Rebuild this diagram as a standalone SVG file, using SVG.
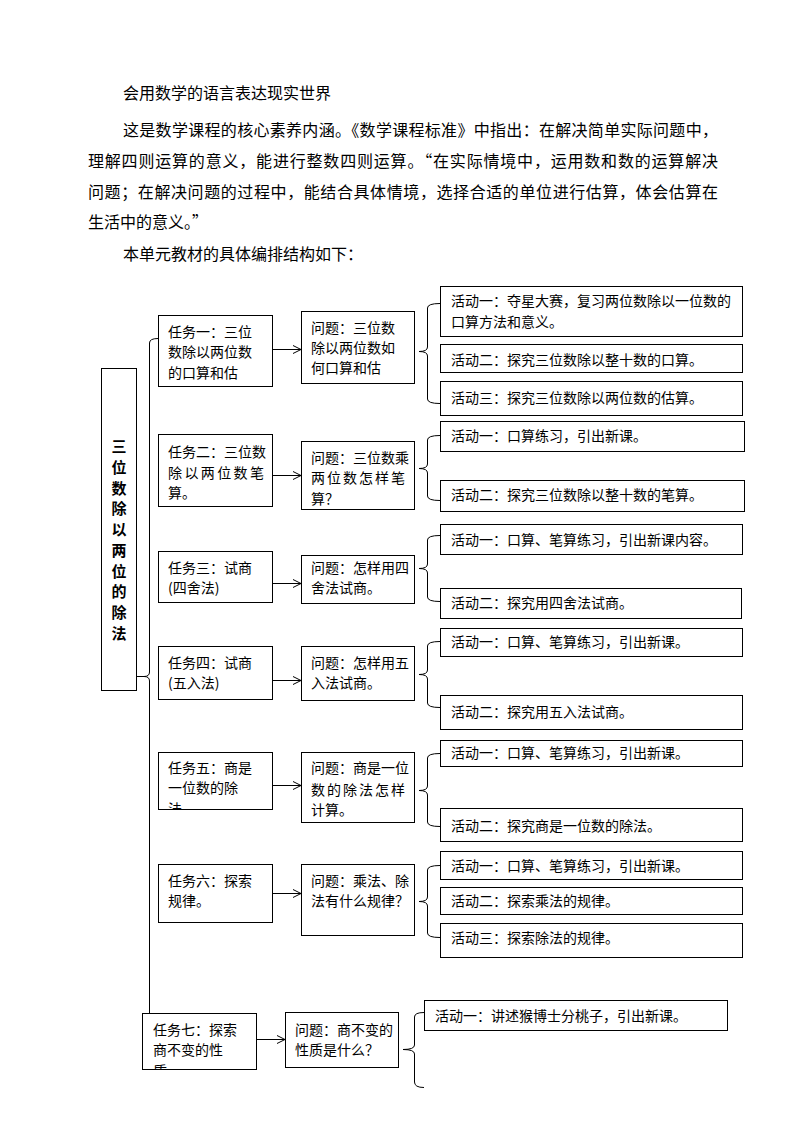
<svg xmlns="http://www.w3.org/2000/svg" width="794" height="1123" viewBox="0 0 794 1123">
<style>
text{font-family:"Noto Sans CJK SC","Liberation Sans",sans-serif;fill:#000}
.p{font-size:16px}
.t{font-size:14px}
.m{font-size:15px;font-weight:bold}
rect{fill:#fff;stroke:#000;stroke-width:1}
.c path,.c line{fill:none;stroke:#000;stroke-width:1}
</style>
<defs>
<marker id="ah" markerWidth="10" markerHeight="10" refX="9" refY="5" orient="auto" markerUnits="userSpaceOnUse">
<path d="M1,1 L9,5 L1,9" fill="none" stroke="#000" stroke-width="1"/>
</marker>
<clipPath id="cl5"><rect x="158" y="753" width="115" height="56"/></clipPath>
<clipPath id="cl7"><rect x="142" y="1013" width="115" height="56"/></clipPath>
</defs>
<rect x="0" y="0" width="794" height="1123" style="stroke:none"/>

<g id="intro">
<text class="p" x="123" y="99">会用数学的语言表达现实世界</text>
<text class="p" x="123" y="136" textLength="595" lengthAdjust="spacing">这是数学课程的核心素养内涵。《数学课程标准》中指出：在解决简单实际问题中，</text>
<text class="p" x="88" y="167" textLength="630" lengthAdjust="spacing">理解四则运算的意义，能进行整数四则运算。“在实际情境中，运用数和数的运算解决</text>
<text class="p" x="88" y="198" textLength="630" lengthAdjust="spacing">问题；在解决问题的过程中，能结合具体情境，选择合适的单位进行估算，体会估算在</text>
<text class="p" x="88" y="228">生活中的意义。”</text>
<text class="p" x="123" y="260">本单元教材的具体编排结构如下：</text>
</g>

<g id="main">
<rect x="101.5" y="368.5" width="35" height="322"/>
<text class="m" text-anchor="middle">
<tspan x="119" y="452">三</tspan><tspan x="119" y="473">位</tspan><tspan x="119" y="494">数</tspan><tspan x="119" y="514">除</tspan><tspan x="119" y="535">以</tspan><tspan x="119" y="556">两</tspan><tspan x="119" y="577">位</tspan><tspan x="119" y="597">的</tspan><tspan x="119" y="618">除</tspan><tspan x="119" y="639">法</tspan>
</text>
</g>

<g id="task1"><rect x="158.5" y="315.5" width="114" height="71"/>
<text class="t"><tspan x="168" y="337">任务一：三位</tspan><tspan x="168" y="357">数除以两位数</tspan><tspan x="168" y="378">的口算和估</tspan></text></g>
<g id="q1"><rect x="301.5" y="311.5" width="113" height="72"/>
<text class="t"><tspan x="311" y="333">问题：三位数</tspan><tspan x="311" y="353">除以两位数如</tspan><tspan x="311" y="373">何口算和估</tspan></text></g>
<g id="a1-1"><rect x="440.5" y="286.5" width="302" height="50"/>
<text class="t"><tspan x="451" y="306">活动一：夺星大赛，复习两位数除以一位数的</tspan><tspan x="451" y="327">口算方法和意义。</tspan></text></g>
<g id="a1-2"><rect x="440.5" y="344.5" width="302" height="28"/>
<text class="t" x="451" y="365">活动二：探究三位数除以整十数的口算。</text></g>
<g id="a1-3"><rect x="440.5" y="381.5" width="302" height="34"/>
<text class="t" x="451" y="403">活动三：探究三位数除以两位数的估算。</text></g>

<g id="task2"><rect x="158.5" y="434.5" width="114" height="72"/>
<text class="t"><tspan x="168" y="457">任务二：三位数</tspan><tspan x="168" y="478" textLength="96" lengthAdjust="spacing">除以两位数笔</tspan><tspan x="168" y="498">算。</tspan></text></g>
<g id="q2"><rect x="301.5" y="441.5" width="113" height="68"/>
<text class="t"><tspan x="311" y="463">问题：三位数乘</tspan><tspan x="311" y="483" textLength="94" lengthAdjust="spacing">两位数怎样笔</tspan><tspan x="311" y="504">算？</tspan></text></g>
<g id="a2-1"><rect x="440.5" y="421.5" width="304" height="30"/>
<text class="t" x="451" y="441">活动一：口算练习，引出新课。</text></g>
<g id="a2-2"><rect x="440.5" y="480.5" width="304" height="31"/>
<text class="t" x="451" y="500">活动二：探究三位数除以整十数的笔算。</text></g>

<g id="task3"><rect x="158.5" y="551.5" width="114" height="51"/>
<text class="t"><tspan x="168" y="573">任务三：试商</tspan><tspan x="168" y="593">(四舍法)</tspan></text></g>
<g id="q3"><rect x="301.5" y="555.5" width="113" height="48"/>
<text class="t"><tspan x="311" y="573">问题：怎样用四</tspan><tspan x="311" y="593">舍法试商。</tspan></text></g>
<g id="a3-1"><rect x="440.5" y="524.5" width="302" height="30"/>
<text class="t" x="451" y="545">活动一：口算、笔算练习，引出新课内容。</text></g>
<g id="a3-2"><rect x="440.5" y="588.5" width="301" height="30"/>
<text class="t" x="451" y="608">活动二：探究用四舍法试商。</text></g>

<g id="task4"><rect x="158.5" y="646.5" width="114" height="53"/>
<text class="t"><tspan x="168" y="668">任务四：试商</tspan><tspan x="168" y="688">(五入法)</tspan></text></g>
<g id="q4"><rect x="301.5" y="646.5" width="113" height="54"/>
<text class="t"><tspan x="311" y="668">问题：怎样用五</tspan><tspan x="311" y="688">入法试商。</tspan></text></g>
<g id="a4-1"><rect x="440.5" y="628.5" width="302" height="28"/>
<text class="t" x="451" y="647">活动一：口算、笔算练习，引出新课。</text></g>
<g id="a4-2"><rect x="440.5" y="695.5" width="302" height="34"/>
<text class="t" x="451" y="717">活动二：探究用五入法试商。</text></g>

<g id="task5"><rect x="158.5" y="752.5" width="114" height="57"/>
<text class="t" clip-path="url(#cl5)"><tspan x="168" y="773">任务五：商是</tspan><tspan x="168" y="793">一位数的除</tspan><tspan x="168" y="814">法</tspan></text></g>
<g id="q5"><rect x="301.5" y="752.5" width="113" height="70"/>
<text class="t"><tspan x="311" y="773">问题：商是一位</tspan><tspan x="311" y="795" textLength="94" lengthAdjust="spacing">数的除法怎样</tspan><tspan x="311" y="815">计算。</tspan></text></g>
<g id="a5-1"><rect x="440.5" y="740.5" width="302" height="26"/>
<text class="t" x="451" y="758">活动一：口算、笔算练习，引出新课。</text></g>
<g id="a5-2"><rect x="440.5" y="808.5" width="302" height="33"/>
<text class="t" x="451" y="831">活动二：探究商是一位数的除法。</text></g>

<g id="task6"><rect x="158.5" y="864.5" width="114" height="58"/>
<text class="t"><tspan x="168" y="886">任务六：探索</tspan><tspan x="168" y="906">规律。</tspan></text></g>
<g id="q6"><rect x="301.5" y="864.5" width="113" height="71"/>
<text class="t"><tspan x="311" y="886">问题：乘法、除</tspan><tspan x="311" y="906">法有什么规律？</tspan></text></g>
<g id="a6-1"><rect x="440.5" y="851.5" width="302" height="28"/>
<text class="t" x="451" y="871">活动一：口算、笔算练习，引出新课。</text></g>
<g id="a6-2"><rect x="440.5" y="887.5" width="302" height="27"/>
<text class="t" x="451" y="906">活动二：探索乘法的规律。</text></g>
<g id="a6-3"><rect x="440.5" y="923.5" width="302" height="34"/>
<text class="t" x="451" y="943">活动三：探索除法的规律。</text></g>

<g id="task7"><rect x="142.5" y="1013.5" width="114" height="56"/>
<text class="t" clip-path="url(#cl7)"><tspan x="153" y="1035">任务七：探索</tspan><tspan x="153" y="1055">商不变的性</tspan><tspan x="153" y="1076">质</tspan></text></g>
<g id="q7"><rect x="285.5" y="1012.5" width="113" height="55"/>
<text class="t"><tspan x="295" y="1035">问题：商不变的</tspan><tspan x="295" y="1055">性质是什么？</tspan></text></g>
<g id="a7-1"><rect x="424.5" y="1000.5" width="303" height="30"/>
<text class="t" x="435" y="1021">活动一：讲述猴博士分桃子，引出新课。</text></g>

<g id="connectors" class="c">
<path d="M158,338.5 Q149.5,338.5 149.5,343 L149.5,672 Q149.5,676.5 144,676.5 L136.5,676.5 M144,676.5 Q149.5,676.5 149.5,681 L149.5,1013"/>
<line x1="272.5" y1="349.5" x2="301" y2="349.5" marker-end="url(#ah)"/>
<line x1="272.5" y1="475.5" x2="301" y2="475.5" marker-end="url(#ah)"/>
<line x1="272.5" y1="583.5" x2="301" y2="583.5" marker-end="url(#ah)"/>
<line x1="272.5" y1="680.5" x2="301" y2="680.5" marker-end="url(#ah)"/>
<line x1="272.5" y1="785.5" x2="301" y2="785.5" marker-end="url(#ah)"/>
<line x1="272.5" y1="893.5" x2="301" y2="893.5" marker-end="url(#ah)"/>
<line x1="256.5" y1="1039.5" x2="285" y2="1039.5" marker-end="url(#ah)"/>
<path d="M440,303.5 Q427.5,303.5 427.5,308 L427.5,347 Q427.5,351.5 419,351.5 Q427.5,351.5 427.5,356 L427.5,399 Q427.5,403.5 440,403.5"/>
<path d="M440,435.5 Q427.5,435.5 427.5,440 L427.5,464 Q427.5,468.5 419,468.5 Q427.5,468.5 427.5,473 L427.5,496 Q427.5,500.5 440,500.5"/>
<path d="M440,535.5 Q427.5,535.5 427.5,540 L427.5,564 Q427.5,568.5 419,568.5 Q427.5,568.5 427.5,573 L427.5,597 Q427.5,601.5 440,601.5"/>
<path d="M440,641.5 Q427.5,641.5 427.5,646 L427.5,670 Q427.5,674.5 419,674.5 Q427.5,674.5 427.5,679 L427.5,703 Q427.5,707.5 440,707.5"/>
<path d="M440,753.5 Q427.5,753.5 427.5,758 L427.5,786 Q427.5,790.5 419,790.5 Q427.5,790.5 427.5,795 L427.5,822 Q427.5,826.5 440,826.5"/>
<path d="M440,865.5 Q427.5,865.5 427.5,870 L427.5,897 Q427.5,901.5 419,901.5 Q427.5,901.5 427.5,906 L427.5,933 Q427.5,937.5 440,937.5"/>
<path d="M424,1012.5 Q414.5,1012.5 414.5,1017 L414.5,1045 Q414.5,1049.5 403,1049.5 Q414.5,1049.5 414.5,1054 L414.5,1082 Q414.5,1087.5 424,1087.5"/>
</g>
</svg>
